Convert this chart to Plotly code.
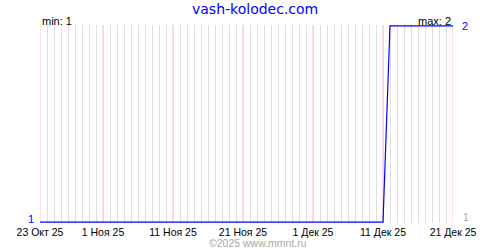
import plotly.graph_objects as go
import pandas as pd

# Data
dates = pd.date_range("2025-10-23", "2025-12-21", freq="D").strftime("%Y-%m-%d").tolist()
values = [1] * len(pd.date_range("2025-10-23", "2025-12-11", freq="D")) + \
         [2] * len(pd.date_range("2025-12-12", "2025-12-21", freq="D"))
tick_dates = ["2025-10-23", "2025-11-01", "2025-11-11", "2025-11-21",
              "2025-12-01", "2025-12-11", "2025-12-21"]
tick_labels = ["23 Окт 25", "1 Ноя 25", "11 Ноя 25", "21 Ноя 25",
               "1 Дек 25", "11 Дек 25", "21 Дек 25"]
title_text = "vash-kolodec.com"
footer_text = "©2025 www.mmnt.ru"
y_min, y_max = 1, 2

FONT = "Liberation Sans"
BLUE = "#0000ff"
PINK = "rgb(255,195,195)"
GRAY = "rgb(222,222,222)"

fig = go.Figure()
fig.add_trace(go.Scatter(x=dates, y=values, mode="lines",
                         line=dict(color=BLUE, width=1.2), hoverinfo="skip",
                         showlegend=False))

# pink vertical lines at labelled dates, positioned through the x axis
for d in tick_dates:
    fig.add_vline(x=d, line=dict(color=PINK, width=1), layer="below")

xr = [dates[0], dates[-1]]
pad = 0.004
fig.update_layout(
    width=500, height=250,
    margin=dict(l=40, r=47, t=25, b=25),
    paper_bgcolor="white", plot_bgcolor="white",
    font=dict(family=FONT, size=10, color="black"),
    xaxis=dict(type="date", range=xr,
               tickmode="array",
               tickvals=tick_dates, ticktext=tick_labels,
               showgrid=False,
               minor=dict(tickmode="array", tickvals=dates, showgrid=True,
                          gridcolor=GRAY, gridwidth=1, ticks=""),
               tickfont=dict(family=FONT, size=10.5, color="black"),
               ticklabelstandoff=1,
               zeroline=False, showline=False, ticks=""),
    yaxis=dict(range=[y_min - pad, y_max + pad], tickvals=[y_min, y_max],
               showticklabels=False,
               showgrid=True, gridcolor=GRAY, zeroline=False,
               ticks="", showline=False),
)

fig.add_annotation(text=title_text, xref="paper", yref="paper", x=0.5, y=1,
                   yshift=26, xshift=8, yanchor="top", showarrow=False,
                   font=dict(family="DejaVu Sans", size=14, color=BLUE))
fig.add_annotation(text="min: %d" % min(values), xref="paper", yref="y",
                   x=0, y=y_max, xanchor="left", yanchor="bottom", showarrow=False,
                   font=dict(family=FONT, size=11, color="black"), yshift=-3)
fig.add_annotation(text="max: %d" % max(values), xref="paper", yref="y",
                   x=1, y=y_max, xanchor="right", yanchor="bottom", showarrow=False,
                   font=dict(family=FONT, size=11, color="black"), yshift=-3)
fig.add_annotation(text=str(y_max), xref="paper", yref="y", x=1, y=y_max,
                   xanchor="left", yanchor="middle", xshift=7, showarrow=False,
                   font=dict(family=FONT, size=11, color=BLUE))
fig.add_annotation(text=str(y_min), xref="paper", yref="y", x=0, y=y_min,
                   xanchor="right", yanchor="middle", xshift=-4, yshift=3, showarrow=False,
                   font=dict(family=FONT, size=11, color=BLUE))
fig.add_annotation(text=str(y_min), xref="paper", yref="y", x=1, y=y_min,
                   xanchor="left", yanchor="middle", xshift=8, yshift=5, showarrow=False,
                   font=dict(family=FONT, size=10, color="#a0a0a0"))
fig.add_annotation(text=footer_text, xref="paper", yref="paper", x=0.5, y=0,
                   yshift=-20, xshift=11, yanchor="middle", showarrow=False,
                   font=dict(family=FONT, size=10.5, color="#a8a8a8"))

fig.write_html("out.html")
